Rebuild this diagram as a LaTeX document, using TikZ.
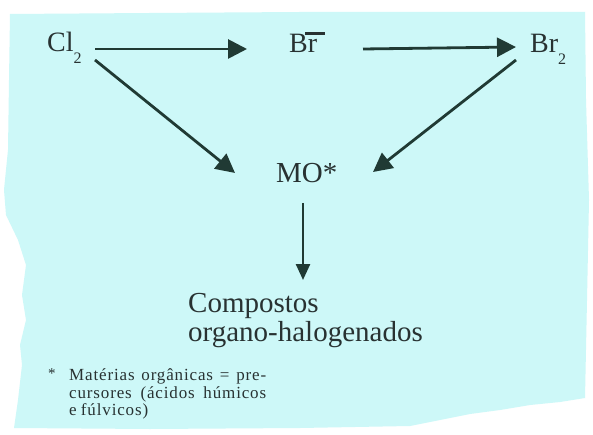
\documentclass[tikz,border=0pt]{standalone}
\usepackage{fontspec}
\setmainfont{Liberation Serif}
\usetikzlibrary{arrows.meta,calc}
\definecolor{bgcyan}{RGB}{205,248,248}
\definecolor{ink}{RGB}{40,50,50}
\definecolor{arrowc}{RGB}{32,58,52}
\newcommand\lowtwo{\raisebox{-0.42em}{\fontsize{16}{16}\selectfont 2}}
\begin{document}
\begin{tikzpicture}[x=1pt,y=-1pt,
  lbl/.style={inner sep=0pt, text=ink, font=\fontsize{28}{28}\selectfont, anchor=base west},
  big/.style={inner sep=0pt, text=ink, font=\fontsize{29}{29}\selectfont, anchor=base west},
  note/.style={inner sep=0pt, text=ink, font=\fontsize{17}{17}\selectfont\addfontfeature{LetterSpace=5.0}, anchor=base west},
  arr/.style={draw=arrowc, line width=2.8pt, -{Triangle[length=19pt,width=19pt]}},
  arrsmall/.style={draw=arrowc, line width=2.5pt, -{Triangle[length=16pt,width=14pt]}},
]
\useasboundingbox (0,0) rectangle (593,435);
\fill[white] (0,0) rectangle (593,435);
\fill[bgcyan] (10,14) -- (150,13) -- (300,12) -- (450,12) -- (585,12)
  -- (586,100) -- (589,200) -- (587,300) -- (585,398)
  -- (560,402) -- (530,405) -- (500,410) -- (470,414) -- (440,420) -- (410,426)
  -- (300,428) -- (150,429) -- (14,428)
  -- (18,400) -- (22,365) -- (20,345) -- (26,320) -- (22,295) -- (26,265) -- (18,240)
  -- (6,215) -- (4,190) -- (8,150) -- (9,80) -- cycle;

\node[lbl] (cl) at (47,52) {Cl\lowtwo};
\node[lbl] (brm) at (289,53) {Br\kern-0.43em\raisebox{0.66em}{\rule{0.71em}{0.09em}}};
\node[lbl] (br2) at (530,53) {Br\lowtwo};
\node[big] (mo) at (276,183) {MO*};
\node[big] (comp) at (188,312) {Compostos};
\node[big] (comp2) at (188,341) {organo-halogenados};
\node[note, font=\fontsize{15}{15}\selectfont] (ast) at (48,378) {*};
\node[note] (n1) at (69,380) {\makebox[197pt][s]{Matérias orgânicas = pre-}};
\node[note] (n2) at (69,398) {\makebox[197pt][s]{cursores (ácidos húmicos}};
\node[note] (n3) at (69,415) {\makebox[79pt][s]{e fúlvicos)}};

\draw[arr] ($(cl.base west)+(48,-3)$) -- ($(brm.base west)+(-42,-4)$);
\draw[arr] ($(brm.base west)+(74,-4)$) -- ($(br2.base west)+(-14,-6)$);
\draw[arr] ($(cl.base west)+(48,8)$) -- ($(mo.base west)+(-41,-10)$);
\draw[arr] ($(br2.base west)+(-14,7)$) -- ($(mo.base west)+(97,-11)$);
\draw[arrsmall] ($(mo.base west)+(27,20)$) -- ($(comp.base west)+(115,-32)$);
\end{tikzpicture}
\end{document}
